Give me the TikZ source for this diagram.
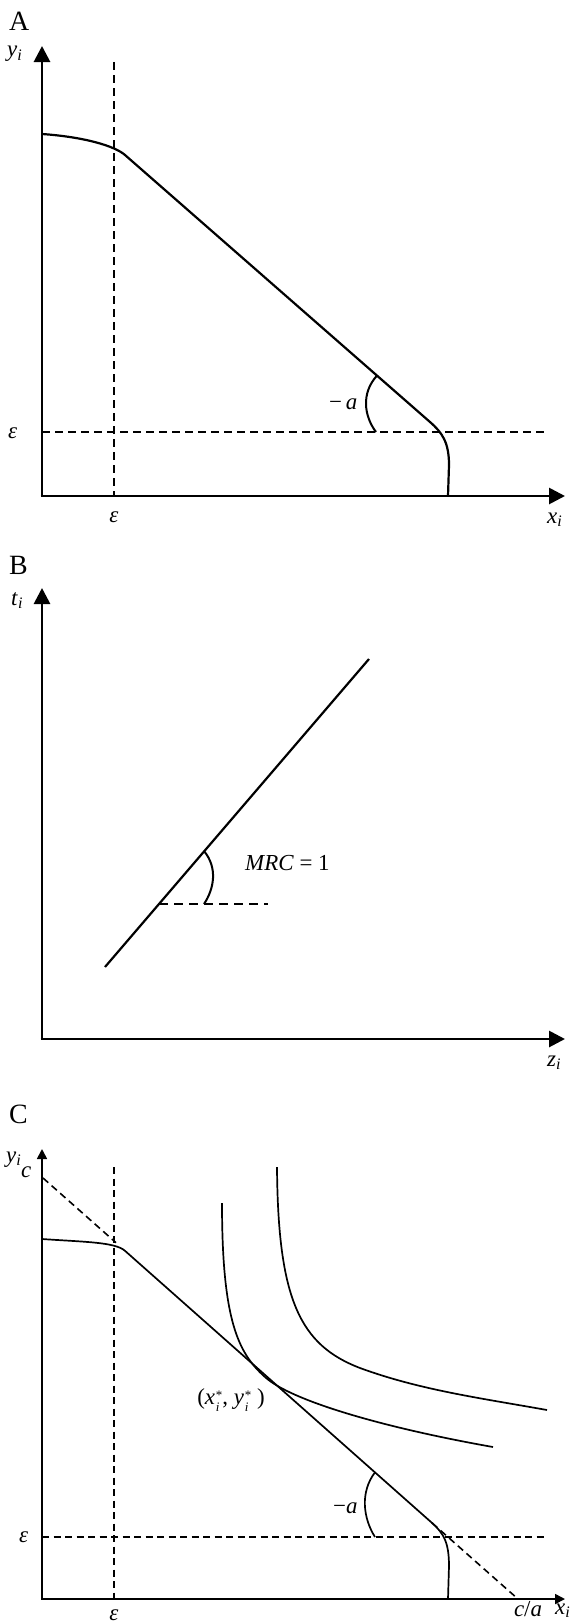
\documentclass[tikz,border=0pt]{standalone}
\usepackage{fontspec}
\setmainfont{Liberation Serif}
\usetikzlibrary{arrows.meta}
\newcommand\vsub[2]{\textit{#1}\textsubscript{\textit{#2}}}
\newcommand\vstar[2]{\textit{#1}\kern0.8bp\raisebox{-0.6ex}{\fontsize{13}{11}\selectfont\shortstack[l]{*\\\textit{#2}}}}
\begin{document}
\begin{tikzpicture}[x=1bp,y=-1bp,
  lab/.style={font=\fontsize{23}{25}\selectfont, inner sep=0pt},
  panel/.style={font=\fontsize{28}{30}\selectfont, inner sep=0pt},
  axisA/.style={line width=2.8bp, -{Triangle[length=16bp,width=16bp]}},
  axisC/.style={line width=1.7bp, -{Triangle[length=10bp,width=10bp]}},
  curveA/.style={line width=2.2bp},
  curveC/.style={line width=1.7bp},
  dashA/.style={line width=2.2bp, dash pattern=on 8bp off 5bp},
  dashC/.style={line width=1.6bp, dash pattern=on 7bp off 4.5bp},
  arcA/.style={line width=2bp}]
\fill[white] (0,0) rectangle (580,1624);
\useasboundingbox (0,0) rectangle (580,1624);

% ---------------- Panel A ----------------
\node[panel, anchor=base west] (labA) at (9,31) {A};
\coordinate (Ao) at (42,496);
\coordinate (Ayt) at (42,46);
\coordinate (Axt) at (565,496);
\draw[axisA] ([yshift=1.4bp]Ao) -- (Ayt);
\draw[axisA] ([xshift=-1.4bp]Ao) -- (Axt);
\node[lab, anchor=base west] (Ay) at (7,57) {\vsub{y}{i}};
\node[lab, anchor=base west] (Ax) at (547,523) {\vsub{x}{i}};
\node[lab, anchor=base west] (Aeps1) at (8,438) {\textit{ε}};
\node[lab, anchor=base] (Aeps2) at (114,522) {\textit{ε}};
\coordinate (Avt) at (114,62);
\coordinate (Avb) at (114,496);
\draw[dashA] (Avt) -- (Avb);
\coordinate (Ahl) at (42,432);
\coordinate (Ahr) at (547,432);
\draw[dashA] (Ahl) -- (Ahr);
\draw[curveA] (42,134) .. controls (85,137) and (115,146.2) .. (125,155)
  -- (430,422) .. controls (442,432.5) and (449,442) .. (449,465) -- (448,496);
\coordinate (Aa1) at (377,375.6);
\coordinate (Aa2) at (376,432);
\draw[arcA] (Aa1) .. controls (361,393) and (364,416) .. (Aa2);
\node[lab, anchor=base west] (Aa) at (329,409) {−\,\textit{a}};

% ---------------- Panel B ----------------
\node[panel, anchor=base west] (labB) at (9,574) {B};
\coordinate (Bo) at (42,1039);
\coordinate (Byt) at (42,588);
\coordinate (Bxt) at (565,1039);
\draw[axisA] ([yshift=1.4bp]Bo) -- (Byt);
\draw[axisA] ([xshift=-1.4bp]Bo) -- (Bxt);
\node[lab, anchor=base west] (By) at (11,605) {\vsub{t}{i}};
\node[lab, anchor=base west] (Bx) at (547,1066) {\vsub{z}{i}};
\coordinate (Bl1) at (105,967);
\coordinate (Bl2) at (369,659);
\draw[curveA] (Bl1) -- (Bl2);
\coordinate (Bd1) at (159,904);
\coordinate (Bd2) at (268,904);
\draw[dashA, dash pattern=on 9bp off 6bp] (Bd1) -- (Bd2);
\coordinate (Ba1) at (204,851);
\coordinate (Ba2) at (204,904);
\draw[arcA] (Ba1) .. controls (218,868) and (214,889) .. (Ba2);
\node[lab, anchor=base west] (Bm) at (245,870) {\textit{MRC} = 1};

% ---------------- Panel C ----------------
\node[panel, anchor=base west] (labC) at (9,1123) {C};
\coordinate (Co) at (42,1599);
\coordinate (Cyt) at (42,1149);
\coordinate (Cxt) at (565,1599);
\draw[axisC] ([yshift=0.85bp]Co) -- (Cyt);
\draw[axisC] ([xshift=-0.85bp]Co) -- (Cxt);
\node[lab, anchor=base west] (Cy) at (6,1162) {\vsub{y}{i}};
\node[lab, anchor=base west] (Cc) at (21,1177) {\textit{c}};
\node[lab, anchor=base west] (Cx) at (555,1614) {\vsub{x}{i}};
\node[lab, anchor=base] (Cca) at (528,1616) {\textit{c}/\textit{a}};
\node[lab, anchor=base west] (Ceps1) at (19,1542) {\textit{ε}};
\node[lab, anchor=base] (Ceps2) at (114,1620) {\textit{ε}};
\coordinate (Cvt) at (114,1167);
\coordinate (Cvb) at (114,1599);
\draw[dashC] (Cvt) -- (Cvb);
\coordinate (Chl) at (42,1537);
\coordinate (Chr) at (548,1537);
\draw[dashC] (Chl) -- (Chr);
% budget line extensions
\coordinate (Cc0) at (43,1178);
\coordinate (Cc1) at (116,1242.7);
\coordinate (Cc2) at (432,1522.9);
\coordinate (Cc3) at (518,1599);
\draw[dashC] (Cc0) -- (Cc1);
\draw[dashC] (Cc2) -- (Cc3);
\draw[curveC] (42,1239) .. controls (85,1242) and (115,1242) .. (125,1250.8)
  -- (Cc2) .. controls (444,1533.5) and (449,1543) .. (449,1566) -- (448,1599);
\coordinate (Ca1) at (375,1472.3);
\coordinate (Ca2) at (375,1537);
\draw[curveC] (Ca1) .. controls (360,1492) and (363,1518) .. (Ca2);
\node[lab, anchor=base west] (Ca) at (333,1513) {−\textit{a}};
% indifference curves
\coordinate (T) at (265,1377);
\draw[curveC] (222,1203) .. controls (222,1320) and (238,1353) .. (T)
  .. controls (290,1400) and (380,1427) .. (493,1447);
\draw[curveC] (277,1167) .. controls (278,1300) and (300,1345) .. (360,1368)
  .. controls (420,1390) and (480,1398) .. (547,1410);
\node[lab, anchor=center] (Cstar) at (231,1400) {(\vstar{x}{i}, \vstar{y}{i}\ )};
\end{tikzpicture}
\end{document}
